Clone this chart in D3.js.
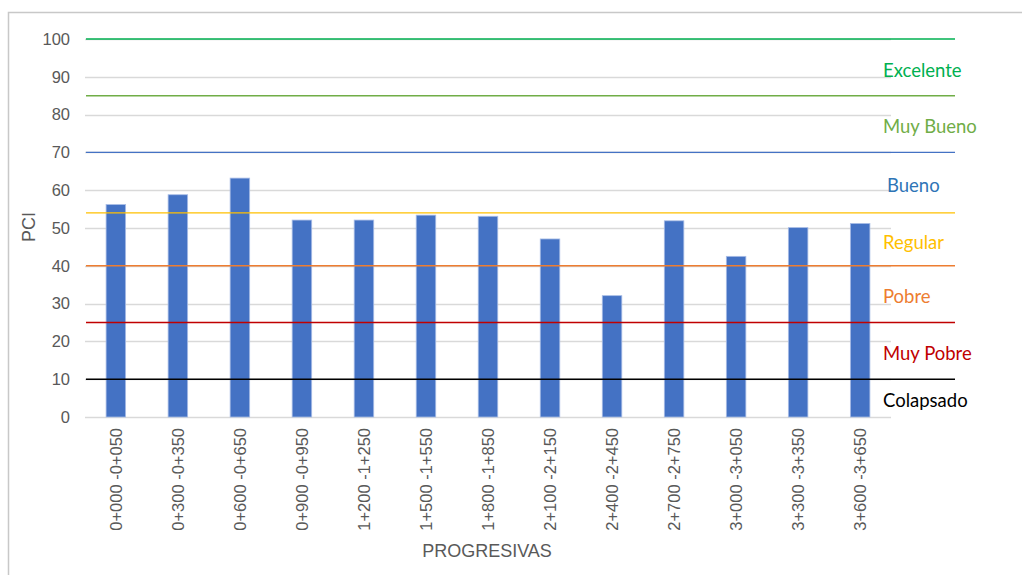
<!DOCTYPE html>
<html>
<head>
<meta charset="utf-8">
<script src="https://cdn.jsdelivr.net/npm/d3@7"></script>
<style>
  body { margin: 0; background: #fff; }
  svg { display: block; }
</style>
</head>
<body>
<div id="vizholder"></div>
<script>
// data
var progresivas = ["0+000 -0+050", "0+300 -0+350", "0+600 -0+650", "0+900 -0+950",
  "1+200 -1+250", "1+500 -1+550", "1+800 -1+850", "2+100 -2+150", "2+400 -2+450",
  "2+700 -2+750", "3+000 -3+050", "3+300 -3+350", "3+600 -3+650"];
var pci = [56.2, 58.8, 63.2, 52.1, 52.1, 53.4, 53.1, 47.1, 32.1, 51.9, 42.5, 50.1, 51.2];
var yTicks = [0, 10, 20, 30, 40, 50, 60, 70, 80, 90, 100];

// rating limits and the band labels between them
var limits = [100, 85, 70, 54, 40, 25, 10];
var limitColors = ["#00b050", "#70ad47", "#4472c4", "#ffc000", "#ed7d31", "#c00000", "#000000"];
var ratings = ["Excelente", "Muy Bueno", "Bueno", "Regular", "Pobre", "Muy Pobre", "Colapsado"];
var ratingColors = ["#00b050", "#70ad47", "#2e75b6", "#ffc000", "#ed7d31", "#c00000", "#000000"];
var ratingMid = [92.5, 77.5, 62, 47, 32.5, 17.5, 5];

var W = 1022, H = 575;
var margin = {top: 39, right: 131, bottom: 158, left: 85};

var svg = d3.select("#vizholder").append("svg")
  .attr("width", W)
  .attr("height", H);

// outer chart border
svg.append("rect")
  .attr("x", 8.5).attr("y", 12.5)
  .attr("width", 1030).attr("height", 600)
  .attr("fill", "none")
  .attr("stroke", "#c8c8c8")
  .attr("stroke-width", 1.5);

var width = W - margin.left - margin.right,
    height = H - margin.top - margin.bottom;

var g = svg.append("g")
  .attr("transform", "translate(" + margin.left + "," + margin.top + ")");

var x = d3.scaleBand()
  .domain(progresivas)
  .range([0, width])
  .paddingInner(0.685)
  .paddingOuter(0.34);

var y = d3.scaleLinear()
  .domain([0, 100])
  .range([height, 0]);

// gridlines
g.selectAll(".grid")
  .data(yTicks)
  .enter().append("line")
  .attr("class", "grid")
  .attr("x1", 0).attr("x2", width)
  .attr("y1", function(d) { return Math.round(y(d)) + 0.5; })
  .attr("y2", function(d) { return Math.round(y(d)) + 0.5; })
  .attr("stroke", "#d9d9d9")
  .attr("stroke-width", 1.3);

// y axis labels
var yAxis = g.append("g")
  .call(d3.axisLeft(y).tickValues(yTicks).tickSize(0).tickPadding(15));
yAxis.select(".domain").remove();
yAxis.selectAll("text")
  .attr("fill", "#595959")
  .style("font-family", "'Liberation Sans', Arial, sans-serif")
  .style("font-size", "16.5px");

// bars
g.selectAll(".bar")
  .data(pci)
  .enter().append("rect")
  .attr("class", "bar")
  .attr("x", function(d, i) { return x(progresivas[i]); })
  .attr("width", x.bandwidth())
  .attr("y", function(d) { return y(d); })
  .attr("height", function(d) { return height - y(d); })
  .attr("fill", "#4472c4")
  .attr("stroke", "#a9bde6")
  .attr("stroke-width", 0.8);

// rating limit lines, drawn past the plot area
g.selectAll(".limit")
  .data(limits)
  .enter().append("line")
  .attr("class", "limit")
  .attr("x1", 1).attr("x2", width + 64)
  .attr("y1", function(d) { return y(d); })
  .attr("y2", function(d) { return y(d); })
  .attr("stroke", function(d, i) { return limitColors[i]; })
  .attr("stroke-width", 1.4);

// rating labels
g.selectAll(".rating")
  .data(ratings)
  .enter().append("text")
  .attr("class", "rating")
  .attr("x", function(d, i) { return width + (i == 2 ? -4 : -8); })
  .attr("y", function(d, i) { return y(ratingMid[i]); })
  .attr("dy", "0.5em")
  .attr("fill", function(d, i) { return ratingColors[i]; })
  .style("font-family", "Lato, 'Open Sans', sans-serif")
  .style("font-size", "18.5px")
  .text(function(d) { return d; });

// x axis labels
var xAxis = g.append("g")
  .attr("transform", "translate(0," + height + ")")
  .call(d3.axisBottom(x).tickSize(0).tickPadding(0));
xAxis.select(".domain").remove();
xAxis.selectAll("text")
  .attr("transform", "rotate(-90)")
  .attr("x", -11)
  .attr("y", 0)
  .attr("dy", "0.35em")
  .style("text-anchor", "end")
  .attr("fill", "#595959")
  .style("font-family", "'Liberation Sans', Arial, sans-serif")
  .style("font-size", "16.5px");

// axis titles
svg.append("text")
  .attr("transform", "translate(35,227) rotate(-90)")
  .attr("text-anchor", "middle")
  .attr("fill", "#595959")
  .style("font-family", "'Liberation Sans', Arial, sans-serif")
  .style("font-size", "18px")
  .text("PCI");

svg.append("text")
  .attr("x", 487).attr("y", 557)
  .attr("text-anchor", "middle")
  .attr("fill", "#595959")
  .style("font-family", "'Liberation Sans', Arial, sans-serif")
  .style("font-size", "18px")
  .text("PROGRESIVAS");
</script>
</body>
</html>
